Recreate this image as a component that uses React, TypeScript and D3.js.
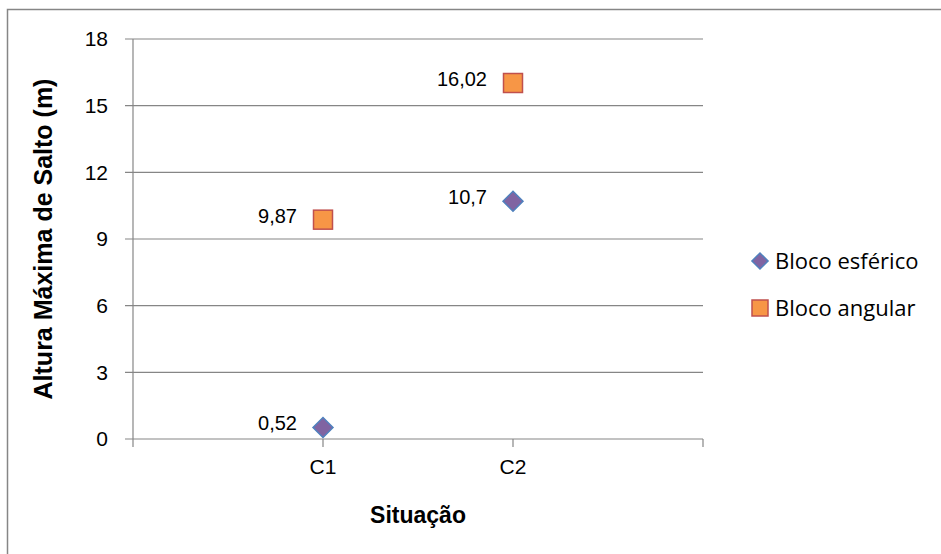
import React from "react";
import * as d3 from "d3";

const categories = ["C1", "C2"];
const esferico = [0.52, 10.7];
const angular = [9.87, 16.02];
const yTicks = [0, 3, 6, 9, 12, 15, 18];
const seriesNames = ["Bloco esférico", "Bloco angular"];

const W = 941;
const H = 554;
const plot = { left: 133, right: 703, top: 39, bottom: 439 };
const grid = "#868686";
const fmt = (v: number) => String(v).replace(".", ",");

export default function App() {
  const x = d3.scaleLinear().domain([0, categories.length + 1]).range([plot.left, plot.right]);
  const y = d3.scaleLinear().domain([0, 18]).range([plot.bottom, plot.top]);
  const xTickVals = d3.range(0, categories.length + 2);
  const diamond = d3.symbol().type(d3.symbolSquare).size(200)();
  const legendDiamond = d3.symbol().type(d3.symbolSquare).size(130)();

  return (
    <svg
      width={W}
      height={H}
      style={{ position: "absolute", left: 0, top: 0, background: "#fff" }}
      fontFamily="Arial, 'Liberation Sans', sans-serif"
    >
      <rect x={7.5} y={9.5} width={W + 20} height={H + 20} fill="#fff" stroke={grid} strokeWidth={1.5} />

      {/* horizontal gridlines and y ticks */}
      {yTicks.map((t) => (
        <g key={t}>
          <line x1={plot.left - 8} x2={plot.right} y1={y(t)} y2={y(t)} stroke={grid} strokeWidth={1.2} />
          <text x={108} y={y(t)} dy="0.35em" textAnchor="end" fontSize={21} fill="#000">
            {t}
          </text>
        </g>
      ))}
      {/* y axis */}
      <line x1={plot.left} x2={plot.left} y1={plot.top} y2={plot.bottom} stroke={grid} strokeWidth={1.2} />
      {/* x ticks */}
      {xTickVals.map((v) => (
        <line key={v} x1={x(v)} x2={x(v)} y1={plot.bottom} y2={plot.bottom + 8} stroke={grid} strokeWidth={1.2} />
      ))}
      {categories.map((c, i) => (
        <text key={c} x={x(i + 1)} y={467} dy="0.35em" textAnchor="middle" fontSize={21} fill="#000">
          {c}
        </text>
      ))}

      {/* axis titles */}
      <text x={x(1.5)} y={515} dy="0.35em" textAnchor="middle" fontSize={23} fontWeight="bold" fill="#000">
        Situação
      </text>
      <text
        transform={`translate(43,${(plot.top + plot.bottom) / 2}) rotate(-90)`}
        dy="0.35em"
        textAnchor="middle"
        fontSize={25}
        fontWeight="bold"
        fill="#000"
      >
        Altura Máxima de Salto (m)
      </text>

      {/* Bloco esférico markers */}
      {esferico.map((v, i) => (
        <g key={"e" + i}>
          <path
            d={diamond}
            transform={`translate(${x(i + 1)},${y(v)}) rotate(45)`}
            fill="#8064A2"
            stroke="#4F81BD"
            strokeWidth={1.5}
          />
          <text x={x(i + 1) - 26} y={y(v) - 4} dy="0.35em" textAnchor="end" fontSize={20} fill="#000">
            {fmt(v)}
          </text>
        </g>
      ))}

      {/* Bloco angular markers */}
      {angular.map((v, i) => (
        <g key={"a" + i}>
          <rect x={x(i + 1) - 9.5} y={y(v) - 9.5} width={19} height={19} fill="#F79646" stroke="#C0504D" strokeWidth={1.5} />
          <text x={x(i + 1) - 26} y={y(v) - 4} dy="0.35em" textAnchor="end" fontSize={20} fill="#000">
            {fmt(v)}
          </text>
        </g>
      ))}

      {/* legend */}
      <g fontFamily="'Open Sans', Lato, sans-serif" fontSize={22} fill="#000">
        <path d={legendDiamond} transform="translate(760,261) rotate(45)" fill="#8064A2" stroke="#4F81BD" strokeWidth={1.5} />
        <text x={775} y={261} dy="0.35em">{seriesNames[0]}</text>
        <rect x={752} y={300} width={16} height={16} fill="#F79646" stroke="#C0504D" strokeWidth={1.5} />
        <text x={775} y={308} dy="0.35em">{seriesNames[1]}</text>
      </g>
    </svg>
  );
}
